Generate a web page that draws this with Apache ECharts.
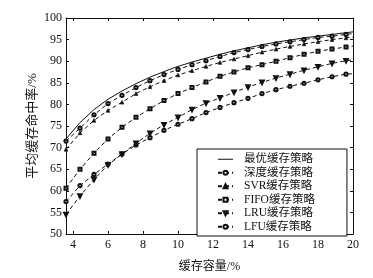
<!DOCTYPE html>
<html>
<head>
<meta charset="utf-8">
<script src="https://cdn.jsdelivr.net/npm/echarts@6/dist/echarts.min.js"></script>
<style>
html,body{margin:0;padding:0;background:#fff;}
#chart{width:373px;height:278px;}
</style>
</head>
<body>
<div id="chart"></div>
<script>
var xValues = [3.6, 4.4, 5.2, 6.0, 6.8, 7.6, 8.4, 9.2, 10.0, 10.8, 11.6, 12.4, 13.2, 14.0, 14.8, 15.6, 16.4, 17.2, 18.0, 18.8, 19.6, 20.0];
var optimal = [72.0, 75.8, 78.8, 81.2, 83.1, 84.8, 86.3, 87.6, 88.8, 89.8, 90.7, 91.6, 92.4, 93.1, 93.8, 94.4, 94.9, 95.4, 95.8, 96.2, 96.6, 96.8];
var deep    = [71.5, 74.5, 77.6, 80.2, 82.1, 83.9, 85.5, 86.9, 88.1, 89.2, 90.1, 91.1, 92.0, 92.7, 93.4, 94.0, 94.5, 95.0, 95.5, 95.8, 96.2, 96.4];
var svr     = [69.6, 73.4, 76.3, 78.6, 80.5, 82.5, 84.1, 85.5, 86.8, 87.8, 88.8, 89.7, 90.5, 91.3, 92.1, 92.8, 93.4, 94.0, 94.5, 95.0, 95.4, 95.6];
var fifo    = [60.6, 65.0, 68.7, 72.0, 74.7, 77.0, 79.0, 80.9, 82.5, 83.9, 85.2, 86.5, 87.5, 88.5, 89.2, 90.0, 90.8, 91.6, 92.3, 92.8, 93.3, 93.5];
var lru     = [54.5, 58.8, 62.6, 66.0, 68.5, 71.0, 73.3, 75.3, 77.0, 78.8, 80.3, 81.5, 82.8, 84.0, 85.1, 86.1, 87.0, 87.9, 88.7, 89.5, 90.1, 90.3];
var lfu     = [57.5, 61.2, 63.8, 66.2, 68.5, 70.6, 72.3, 74.0, 75.4, 76.7, 78.1, 79.3, 80.4, 81.4, 82.5, 83.4, 84.2, 84.9, 85.7, 86.4, 87.0, 87.1];
var names = ['最优缓存策略', '深度缓存策略', 'SVR缓存策略', 'FIFO缓存策略', 'LRU缓存策略', 'LFU缓存策略'];
var yTicks = [50, 55, 60, 65, 70, 75, 80, 85, 90, 95, 100];

var serif = '"Liberation Serif", "Times New Roman", "Noto Sans CJK SC", serif';
var ink = '#111';

function pairs(vals) {
  return xValues.map(function (x, i) {
    var item = { value: [x, vals[i]] };
    if (x === 20) item.symbol = 'none';
    return item;
  });
}

var markerDefs = [
  null,
  { symbol: 'emptyCircle', size: 3.2, rotate: 0 },
  { symbol: 'triangle', size: 3.6, rotate: 0 },
  { symbol: 'emptyRect', size: 3, rotate: 0 },
  { symbol: 'emptyTriangle', size: 3.6, rotate: 180 },
  { symbol: 'emptyCircle', size: 3.2, rotate: 0 }
];
var allData = [optimal, deep, svr, fifo, lru, lfu];

var series = allData.map(function (vals, k) {
  var m = markerDefs[k];
  var s = {
    name: names[k],
    type: 'line',
    data: pairs(vals),
    smooth: false,
    lineStyle: { color: ink, width: 1, type: k === 0 ? 'solid' : [4, 3] },
    itemStyle: { color: ink, borderColor: ink, borderWidth: 0.7 },
    emphasis: { disabled: true },
    animation: false,
    z: 10 - k
  };
  if (m) {
    s.symbol = m.symbol;
    s.symbolSize = m.size;
    s.symbolRotate = m.rotate;
    s.showSymbol = true;
    s.showAllSymbol = true;
  } else {
    s.symbol = 'none';
  }
  return s;
});

var chart = echarts.init(document.getElementById('chart'), null, { renderer: 'canvas' });
var axisLineStyle = { show: true, lineStyle: { color: ink, width: 1 } };
var tickStyle = { show: true, inside: true, length: 3, lineStyle: { color: ink, width: 1 } };

chart.setOption({
  animation: false,
  backgroundColor: '#fff',
  grid: { left: 66, right: 20, top: 18, bottom: 40 },
  legend: {
    data: names.map(function (n, k) {
      var d = { name: n };
      if (k === 0) {
        d.icon = 'path://M0,0L0.01,0L0.01,0.01ZM0,2L15,2L15,3L0,3ZM15,5L14.99,5L14.99,4.99Z';
        d.itemStyle = { color: ink, borderWidth: 0 };
      }
      return d;
    }),
    orient: 'vertical',
    left: 197,
    top: 149,
    padding: [4, 32, 3, 20],
    itemGap: 1,
    itemWidth: 15,
    itemHeight: 5,
    backgroundColor: '#fff',
    borderColor: ink,
    borderWidth: 1,
    selectedMode: false,
    textStyle: { fontFamily: serif, fontSize: 11.5, color: ink, lineHeight: 12.5, padding: [0, 0, 0, 6] }
  },
  xAxis: [{
    type: 'value',
    min: 3.6,
    max: 20,
    splitNumber: 8,
    minInterval: 2,
    maxInterval: 2,
    name: '缓存容量/%',
    nameLocation: 'middle',
    nameGap: 27,
    nameMoveOverlap: false,
    nameTextStyle: { fontFamily: serif, fontSize: 12, color: ink },
    axisLine: axisLineStyle,
    axisTick: tickStyle,
    splitLine: { show: false },
    axisLabel: { fontFamily: serif, fontSize: 12, color: ink, margin: 5, showMinLabel: false }
  }, {
    type: 'value',
    position: 'top',
    min: 3.6,
    max: 20,
    splitNumber: 8,
    minInterval: 2,
    maxInterval: 2,
    axisLine: axisLineStyle,
    axisTick: tickStyle,
    splitLine: { show: false },
    axisLabel: { show: false }
  }],
  yAxis: [{
    type: 'value',
    min: yTicks[0],
    max: yTicks[yTicks.length - 1],
    interval: 5,
    name: '平均缓存命中率/%',
    nameLocation: 'middle',
    nameGap: 27,
    nameMoveOverlap: false,
    nameTextStyle: { fontFamily: serif, fontSize: 13, color: ink },
    axisLine: axisLineStyle,
    axisTick: tickStyle,
    splitLine: { show: false },
    axisLabel: { fontFamily: serif, fontSize: 12, color: ink, margin: 4 }
  }, {
    type: 'value',
    position: 'right',
    min: yTicks[0],
    max: yTicks[yTicks.length - 1],
    interval: 5,
    axisLine: axisLineStyle,
    axisTick: tickStyle,
    splitLine: { show: false },
    axisLabel: { show: false }
  }],
  series: series
});
</script>
</body>
</html>
